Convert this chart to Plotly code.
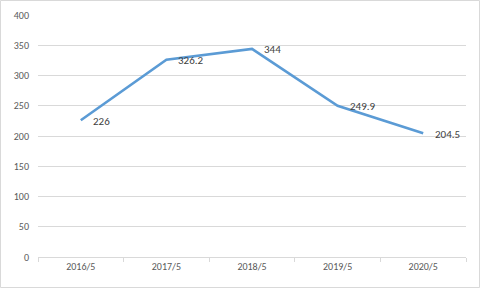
import plotly.graph_objects as go

categories = ["2016/5", "2017/5", "2018/5", "2019/5", "2020/5"]
values = [226, 326.2, 344, 249.9, 204.5]
labels = ["226", "326.2", "344", "249.9", "204.5"]
y_ticks = [0, 50, 100, 150, 200, 250, 300, 350, 400]

W, H = 481, 289
ml, mr, mt, mb = 38, 15, 15, 32
pw, ph = W - ml - mr, H - mt - mb
FONT = "Calibri, Carlito, Liberation Sans, Arial"

fig = go.Figure()
fig.add_trace(go.Scatter(
    x=categories, y=values, mode="lines",
    line=dict(color="#5B9BD5", width=2.6),
    cliponaxis=False, hoverinfo="skip",
))

annotations = [
    dict(x=c, y=v, text=t, xref="x", yref="y", showarrow=False,
         xanchor="left", yanchor="middle", xshift=10, yshift=-1,
         font=dict(family=FONT, size=11, color="#404040"))
    for c, v, t in zip(categories, values, labels)
]

fig.update_layout(
    width=W, height=H,
    margin=dict(l=ml, r=mr, t=mt, b=mb, autoexpand=False),
    paper_bgcolor="white", plot_bgcolor="white",
    showlegend=False,
    font=dict(family=FONT, size=10, color="#595959"),
    annotations=annotations,
    xaxis=dict(
        type="category", range=[-0.5, 4.5], automargin=False,
        showgrid=False, showline=True, linecolor="#d9d9d9", linewidth=1,
        ticks="outside", tickson="boundaries", ticklen=4, tickcolor="#d9d9d9",
        tickfont=dict(size=10, color="#595959"), fixedrange=True,
    ),
    yaxis=dict(
        range=[0, 400], tickvals=y_ticks, showgrid=True, gridcolor="#d9d9d9", gridwidth=1,
        zeroline=False, showline=False, ticks="", ticklabelstandoff=8, automargin=False,
        tickfont=dict(size=10, color="#595959"), fixedrange=True,
    ),
    shapes=[dict(
        type="rect", xref="paper", yref="paper",
        x0=-(ml - 0.5) / pw, x1=1 + (mr - 1.5) / pw,
        y0=-(mb - 1.5) / ph, y1=1 + (mt - 0.5) / ph,
        line=dict(color="#d9d9d9", width=1), layer="below",
    )],
)

fig.write_html("out.html")
